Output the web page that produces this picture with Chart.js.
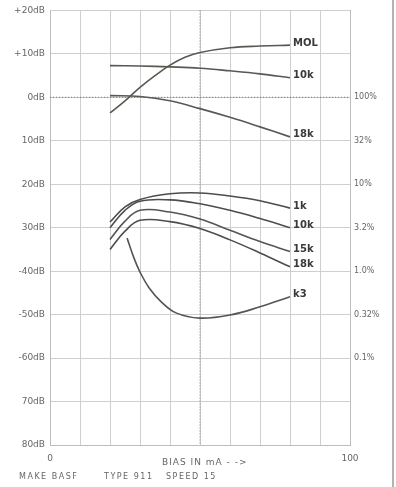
<!DOCTYPE html>
<html>
<head>
<meta charset="utf-8">
<script src="https://cdn.jsdelivr.net/npm/chart.js@4.4.1/dist/chart.umd.min.js"></script>
<style>
  body { margin: 0; background: #fff; }
  canvas { display: block; }
</style>
</head>
<body>
<canvas id="myChart" width="396" height="487"></canvas>
<script>
// bias in mA (x) and level in dB (y) for every curve
var molBias = [20, 25, 30, 35, 40, 45, 50, 60, 70, 80];
var molDb = [-3.6, -0.8, 2.3, 5, 7.4, 9.2, 10.3, 11.4, 11.8, 12];
var top10kBias = [20, 30, 40, 50, 60, 70, 80];
var top10kDb = [7.3, 7.2, 7.0, 6.7, 6.1, 5.4, 4.5];
var top18kBias = [20, 30, 40, 50, 60, 70, 80];
var top18kDb = [0.4, 0.2, -0.8, -2.6, -4.6, -6.8, -9.1];
var d1kBias = [20, 25, 30, 40, 50, 60, 70, 80];
var d1kDb = [-28.7, -25.2, -23.5, -22.2, -22.0, -22.7, -23.8, -25.5];
var d10kBias = [20, 25, 30, 40, 50, 60, 70, 80];
var d10kDb = [-30, -26, -23.9, -23.6, -24.5, -26, -27.9, -30];
var d15kBias = [20, 25, 30, 40, 50, 60, 70, 80];
var d15kDb = [-32.7, -28.5, -26.0, -26.4, -28, -30.6, -33.2, -35.5];
var d18kBias = [20, 25, 30, 40, 50, 60, 70, 80];
var d18kDb = [-35, -30.8, -28.3, -28.6, -30.2, -32.8, -35.8, -39];
var k3Bias = [25.7, 28, 30, 33, 37, 42, 50, 60, 70, 80];
var k3Db = [-32.4, -37, -40.2, -43.8, -47, -49.6, -50.8, -50.1, -48.2, -45.9];

var curveNames = ['MOL', '10k', '18k', '1k', '10k', '15k', '18k', 'k3'];
var dbLabels = ['+20dB', '+10dB', '0dB', '10dB', '20dB', '30dB', '-40dB', '-50dB', '-60dB', '70dB', '80dB'];
var pctLabels = ['', '', '100%', '32%', '10%', '3.2%', '1.0%', '0.32%', '0.1%', '', ''];
var biasLabels = {0: '0', 100: '100'};

var xs = [molBias, top10kBias, top18kBias, d1kBias, d10kBias, d15kBias, d18kBias, k3Bias];
var ys = [molDb, top10kDb, top18kDb, d1kDb, d10kDb, d15kDb, d18kDb, k3Db];
var lineColors = ['#555a52', '#555a52', '#555a52', '#4d4d4d', '#4d4d4d', '#555', '#4d4d4d', '#555'];

var datasets = curveNames.map(function (name, i) {
  return {
    label: name,
    data: xs[i].map(function (x, j) { return {x: x, y: ys[i][j]}; }),
    borderColor: lineColors[i],
    borderWidth: 1.6,
    pointRadius: 0,
    tension: 0.4,
    fill: false
  };
});

var extras = {
  id: 'extras',
  beforeDatasetsDraw: function (chart) {
    var c = chart.ctx, a = chart.chartArea;
    var xs0 = chart.scales.x, ys0 = chart.scales.y;
    c.save();
    c.strokeStyle = '#8a8a8a';
    c.lineWidth = 1.2;
    c.setLineDash([1.2, 1.8]);
    var px = xs0.getPixelForValue(50);
    c.beginPath(); c.moveTo(px, a.top); c.lineTo(px, a.bottom); c.stroke();
    var py = ys0.getPixelForValue(0);
    c.beginPath(); c.moveTo(a.left, py); c.lineTo(a.right, py); c.stroke();
    c.restore();
  },
  afterDatasetsDraw: function (chart) {
    var c = chart.ctx;
    c.save();
    c.fillStyle = '#3a3a3a';
    c.font = 'bold 10px "DejaVu Sans"';
    c.textBaseline = 'middle';
    chart.data.datasets.forEach(function (ds, i) {
      var last = ds.data[ds.data.length - 1];
      var px = chart.scales.x.getPixelForValue(last.x) + 3;
      var py = chart.scales.y.getPixelForValue(last.y) - 2;
      c.fillText(ds.label, px, py);
    });
    // page border and footer text
    c.strokeStyle = '#9a9a9a';
    c.lineWidth = 1.5;
    c.beginPath(); c.moveTo(393, 0); c.lineTo(393, 487); c.stroke();
    c.fillStyle = '#666';
    c.textBaseline = 'alphabetic';
    c.font = '9px "DejaVu Sans"';
    c.letterSpacing = '1px';
    c.fillText('BIAS IN mA - ->', 162, 465);
    c.font = '8px "DejaVu Sans"';
    c.letterSpacing = '1.5px';
    c.fillText('MAKE BASF', 19, 479);
    c.fillText('TYPE 911', 104, 479);
    c.fillText('SPEED 15', 166, 479);
    c.restore();
  }
};

var ctx = document.getElementById('myChart').getContext('2d');
var myChart = new Chart(ctx, {
  type: 'line',
  data: { datasets: datasets },
  options: {
    responsive: false,
    animation: false,
    layout: { padding: { top: 5 } },
    plugins: { legend: { display: false }, tooltip: { enabled: false } },
    scales: {
      x: {
        type: 'linear',
        min: 0, max: 100,
        ticks: {
          stepSize: 10,
          autoSkip: false,
          maxRotation: 0,
          color: '#666',
          font: { family: 'DejaVu Sans', size: 9 },
          padding: 8,
          callback: function (v) { return biasLabels[v] || ''; }
        },
        grid: { color: '#cfcfcf', drawTicks: false },
        border: { color: '#bdbdbd' },
        afterFit: function (s) { s.height = 42; }
      },
      y: {
        min: -80, max: 20,
        ticks: {
          stepSize: 10,
          color: '#666',
          font: { family: 'DejaVu Sans', size: 9 },
          padding: 5,
          callback: function (v) { return dbLabels[Math.round((20 - v) / 10)]; }
        },
        grid: { color: '#cfcfcf', drawTicks: false },
        border: { color: '#bdbdbd' },
        afterFit: function (s) { s.width = 50; }
      },
      y2: {
        position: 'right',
        min: -80, max: 20,
        ticks: {
          stepSize: 10,
          color: '#666',
          font: { family: 'DejaVu Sans', size: 8 },
          padding: 4,
          callback: function (v) { return pctLabels[Math.round((20 - v) / 10)]; }
        },
        grid: { display: false, drawTicks: false },
        border: { color: '#bdbdbd' },
        afterFit: function (s) { s.width = 46; }
      }
    }
  },
  plugins: [extras]
});
</script>
</body>
</html>
